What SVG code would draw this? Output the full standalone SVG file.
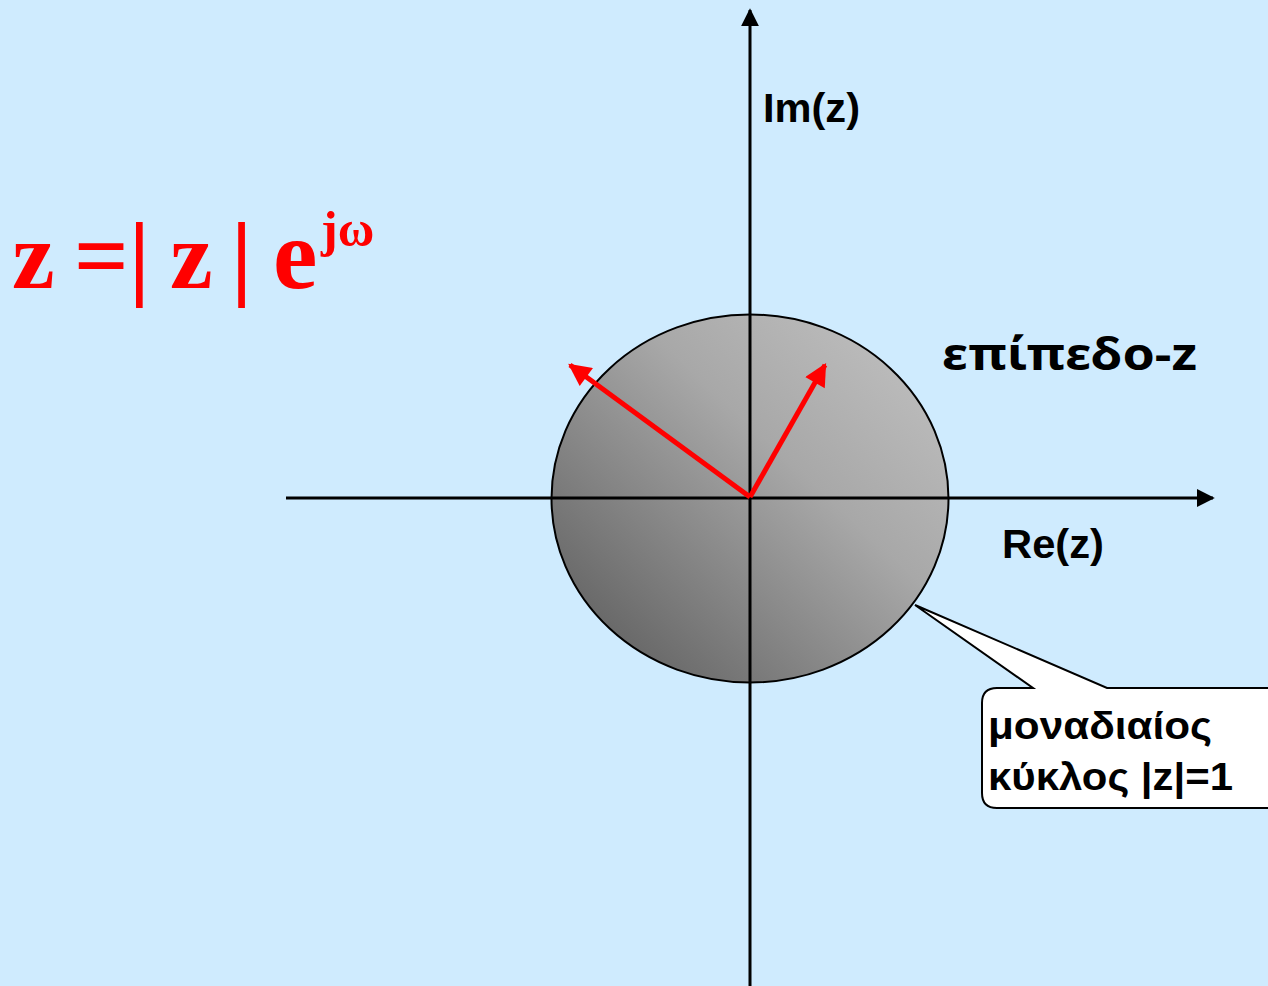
<svg xmlns="http://www.w3.org/2000/svg" width="1268" height="986" viewBox="0 0 1268 986">
<style>
.lbl{font-family:"Liberation Sans",Arial,sans-serif;font-weight:bold;font-size:40px;fill:#000}
.wide{font-family:"Noto Sans","DejaVu Sans",sans-serif;font-weight:bold;font-size:44px;fill:#000}
.fm{font-family:"Liberation Serif","Times New Roman",serif;font-weight:bold;fill:#FF0000}
.axis{stroke:#000;stroke-width:3;fill:none}
.vec{stroke:#FF0000;stroke-width:5;fill:none}
</style>
<defs>
<linearGradient id="g" x1="0" y1="1" x2="1" y2="0">
<stop offset="0" stop-color="#555555"/>
<stop offset="0.6" stop-color="#A8A8A8"/>
<stop offset="1" stop-color="#C4C4C4"/>
</linearGradient>
<marker id="ah" viewBox="0 0 10 10" refX="9" refY="5" markerWidth="6" markerHeight="6" markerUnits="strokeWidth" orient="auto">
<path d="M0,0 L10,5 L0,10 Z" fill="#000"/>
</marker>
<marker id="rh" viewBox="0 0 10 10" refX="9" refY="5" markerWidth="5" markerHeight="4.5" markerUnits="strokeWidth" orient="auto">
<path d="M0,0 L10,5 L0,10 Z" fill="#FF0000"/>
</marker>
</defs>
<rect x="0" y="0" width="1268" height="986" fill="#CFEBFE"/>
<g id="unit-circle">
<ellipse cx="750" cy="498.5" rx="198.5" ry="184" fill="url(#g)" stroke="#000" stroke-width="2"/>
</g>
<g id="connectors">
<line class="axis" x1="286" y1="498" x2="1213" y2="498" marker-end="url(#ah)"/>
<line class="axis" x1="750" y1="986" x2="750" y2="10" marker-end="url(#ah)"/>
<line class="vec" x1="750" y1="497" x2="570" y2="365" marker-end="url(#rh)"/>
<line class="vec" x1="750" y1="497" x2="825" y2="365" marker-end="url(#rh)"/>
</g>
<g id="label-im"><text class="lbl" x="763" y="122" textLength="97" lengthAdjust="spacingAndGlyphs">Im(z)</text></g>
<g id="label-re"><text class="lbl" x="1002" y="558" textLength="102" lengthAdjust="spacingAndGlyphs">Re(z)</text></g>
<g id="label-plane"><text class="wide" x="942" y="370" textLength="255" lengthAdjust="spacingAndGlyphs">επίπεδο-z</text></g>
<g id="callout">
<path d="M997,688 L1033,688 L915,605 L1107,688 L1290,688 L1290,808 L997,808 Q982,808 982,793 L982,703 Q982,688 997,688 Z" fill="#FFFFFF" stroke="#000" stroke-width="2"/>
<text class="lbl" x="988" y="739" style="font-size:38px" textLength="224" lengthAdjust="spacingAndGlyphs">μοναδιαίος</text>
<text class="lbl" x="988" y="790" style="font-size:38px" textLength="245" lengthAdjust="spacingAndGlyphs">κύκλος |z|=1</text>
</g>
<g id="formula">
<text class="fm" x="12" y="288" font-size="96">z</text>
<text class="fm" x="74" y="288" font-size="96">=|</text>
<text class="fm" x="170" y="288" font-size="96">z</text>
<text class="fm" x="231" y="288" font-size="96">|</text>
<text class="fm" x="273" y="288" font-size="100">e</text>
<text class="fm" x="321" y="246" font-size="50">jω</text>
</g>
</svg>
